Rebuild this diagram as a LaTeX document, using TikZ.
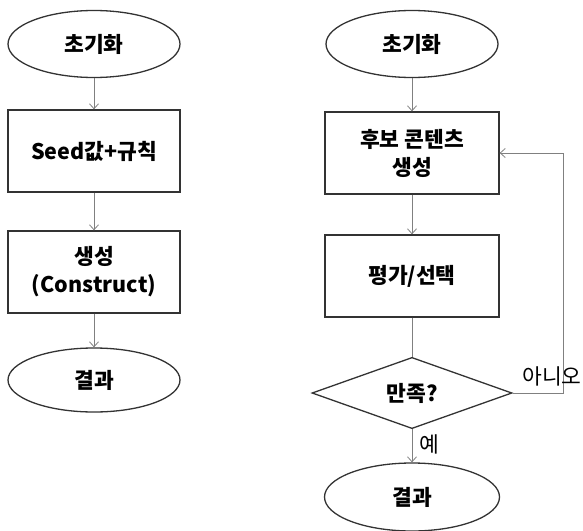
\documentclass[tikz,border=0pt]{standalone}
\usepackage{fontspec}
\setmainfont{Noto Sans CJK KR}
\usetikzlibrary{arrows.meta,shapes.geometric}

\begin{document}
\begin{tikzpicture}[
  fcterm/.style  = {draw=black!80, line width=1.3pt, ellipse, minimum width=172pt, minimum height=67pt, inner sep=0pt, font=\fontsize{21.5}{28}\selectfont\bfseries},
  fcbox/.style   = {draw=black!80, line width=1.3pt, minimum width=172pt, minimum height=82pt, inner sep=0pt, align=center, font=\fontsize{21.5}{28}\selectfont\bfseries},
  fcdec/.style   = {draw=black!80, line width=1.3pt, diamond, minimum width=200pt, minimum height=62pt, inner sep=0pt, font=\fontsize{21.5}{28}\selectfont\bfseries},
  fclink/.style  = {-{Straight Barb[length=5pt,width=9pt]}, draw=black!50, line width=0.8pt},
  fcline/.style  = {draw=black!50, line width=0.8pt},
  fclabel/.style = {font=\fontsize{21.5}{28}\selectfont, inner sep=0pt},
  x=1pt, y=-1pt,
]
  \useasboundingbox (0,0) rectangle (583,530);

  % left: rule based
  \node[fcterm] (l_init) at (94,44)  {초기화};
  \node[fcbox]  (l_rule) at (94,151) {Seed값+규칙};
  \node[fcbox]  (l_cons) at (94,272) {생성\\(Construct)};
  \node[fcterm, minimum height=64pt] (l_res) at (94,380) {결과};
  \draw[fclink] (l_init) -- (l_rule);
  \draw[fclink] (l_rule) -- (l_cons);
  \draw[fclink] (l_cons) -- (l_res);

  % right: generate and test
  \node[fcterm] (r_init) at (412,44)  {초기화};
  \node[fcbox, minimum width=174pt]  (r_gen)  at (412,153) {후보 콘텐츠\\생성};
  \node[fcbox, minimum width=174pt]  (r_eval) at (412,276) {평가/선택};
  \node[fcdec]  (r_ok)   at (412,393) {만족?};
  \node[fcterm, minimum width=175pt, minimum height=68pt] (r_res) at (412,497) {결과};
  \draw[fclink] (r_init) -- (r_gen);
  \draw[fclink] (r_gen) -- (r_eval);
  \draw[fcline] (r_eval) -- (r_ok);
  \draw[fclink] (r_ok) -- node[fclabel, right=7pt, pos=0.45] {예} (r_res);
  \draw[fclink] (r_ok.east) -- ++(51,0) |- (r_gen.east);
  \node[fclabel] (r_no) at (552,376) {아니오};
\end{tikzpicture}
\end{document}
